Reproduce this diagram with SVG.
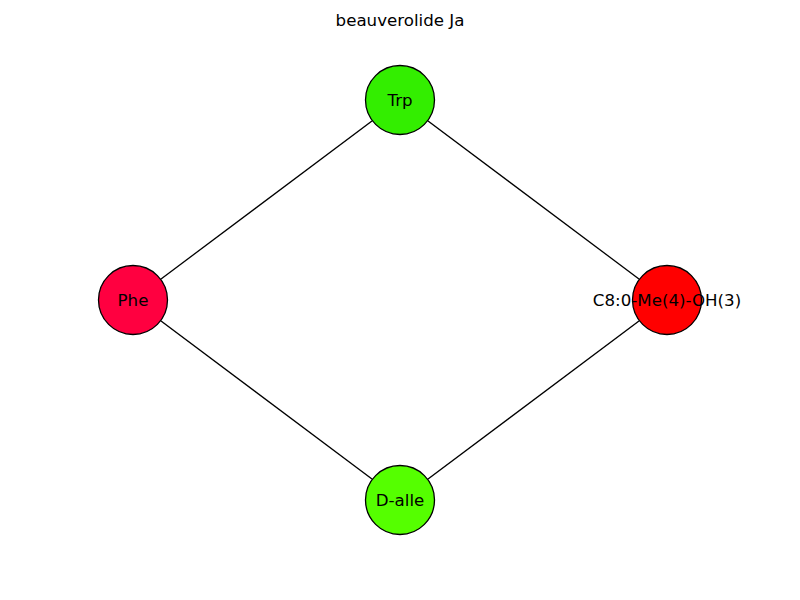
<svg xmlns="http://www.w3.org/2000/svg" width="800" height="600" viewBox="0 0 800 600">
<style>
.n{stroke:#000;stroke-width:1.3}
.e{stroke:#000;stroke-width:1.3;fill:none}
text{font-family:"DejaVu Sans",sans-serif;font-size:16.67px;fill:#000;text-anchor:middle;dominant-baseline:central}
</style>
<rect width="800" height="600" fill="#fff"/>
<text x="400" y="20">beauverolide Ja</text>
<g id="connectors">
<line class="e" x1="400" y1="100" x2="133" y2="300"/>
<line class="e" x1="400" y1="100" x2="667" y2="300"/>
<line class="e" x1="133" y1="300" x2="400" y2="500"/>
<line class="e" x1="400" y1="500" x2="667" y2="300"/>
</g>
<g id="node-trp"><circle class="n" cx="400" cy="100" r="34.5" fill="#33ee00"/><text x="400" y="100">Trp</text></g>
<g id="node-phe"><circle class="n" cx="133" cy="300" r="34.5" fill="#ff0040"/><text x="133" y="300">Phe</text></g>
<g id="node-c8"><circle class="n" cx="667" cy="300" r="34.5" fill="#ff0000"/><text x="667" y="300">C8:0-Me(4)-OH(3)</text></g>
<g id="node-dalle"><circle class="n" cx="400" cy="500" r="34.5" fill="#55ff00"/><text x="400" y="500">D-alle</text></g>
</svg>
